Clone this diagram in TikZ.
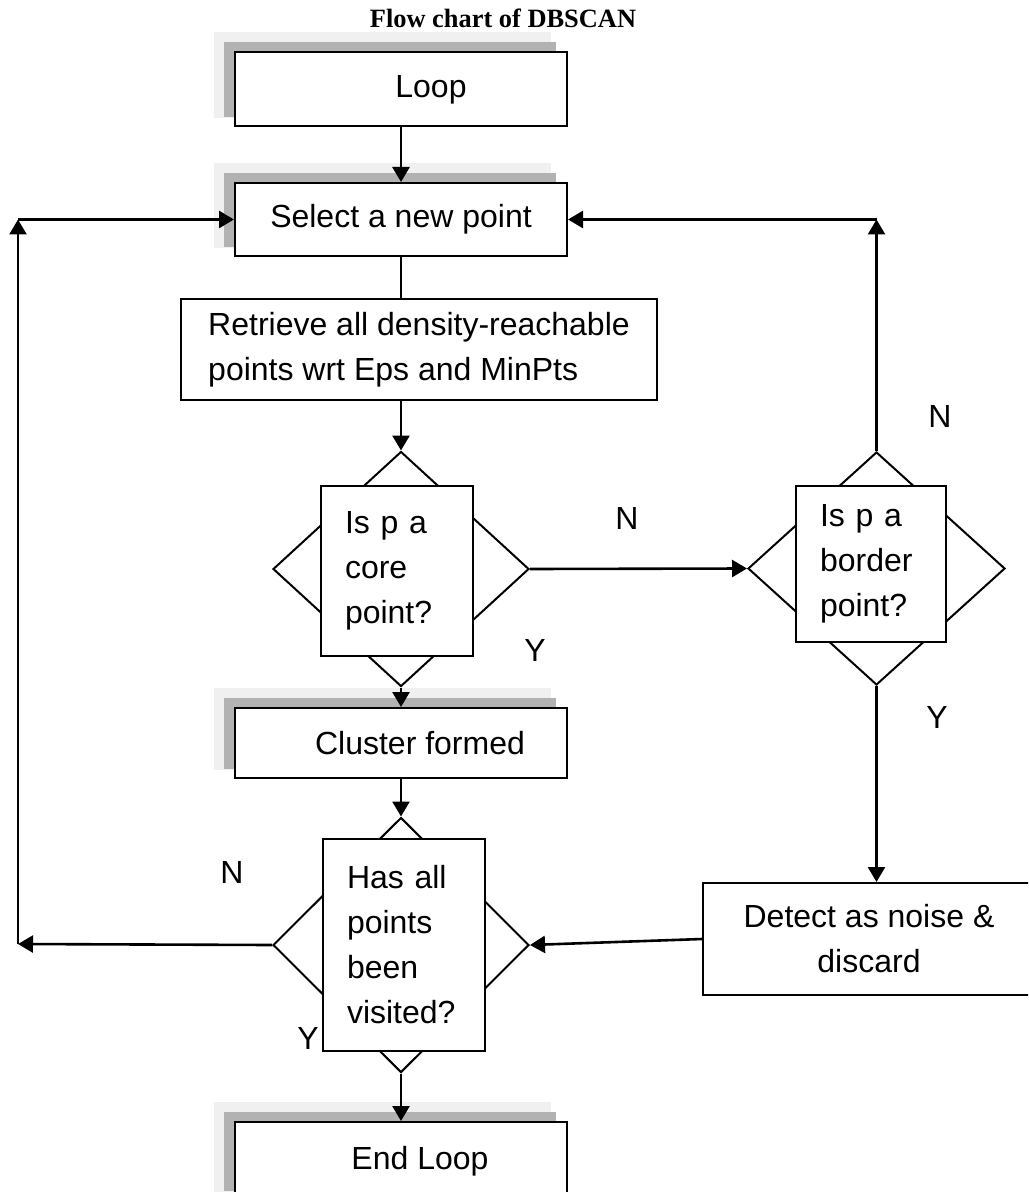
\documentclass[tikz,border=0pt]{standalone}
\usepackage{fontspec}
\setmainfont{Liberation Sans}
\newfontfamily\titlefont{Liberation Serif}
\usetikzlibrary{shapes.geometric,arrows.meta,positioning,backgrounds}

\begin{document}
\begin{tikzpicture}[x=0.5pt, y=-0.5pt,
  font=\fontsize{16pt}{22.5pt}\selectfont,
  box/.style={rectangle, draw, line width=1pt, fill=white, minimum width=166pt, minimum height=37pt, inner sep=0pt, align=center},
  dia/.style={diamond, draw, line width=1pt, inner sep=0pt, minimum width=128pt, minimum height=117pt},
  qbox/.style={rectangle, draw, line width=1pt, fill=white, align=left, inner xsep=12pt, inner ysep=0pt},
  lbl/.style={inner sep=0pt},
  arr/.style={-{Triangle[length=7.5pt,width=8.5pt]}, line width=1.3pt}
]
  \useasboundingbox (0,0) rectangle (1028,1192);
  \clip (0,0) rectangle (1028,1192);
  \node[font=\titlefont\bfseries\fontsize{13.2pt}{15pt}\selectfont] (title) at (503,18) {Flow chart of DBSCAN};
  % boxes
  \node[box] (loop) at (401,89.5) {\hspace*{30pt}Loop};
  \node[box, minimum height=36.5pt] (select) at (401,219.5) {Select a new point};
  \node[box, minimum width=238pt, minimum height=50.5pt, align=left] (retrieve) at (419,349.5) {Retrieve all density-reachable\\points wrt Eps and MinPts};
  \node[box, minimum height=35pt] (cluster) at (401,743) {\hspace*{19pt}Cluster formed};
  \node[box, minimum height=39pt] (endloop) at (401,1161) {\hspace*{19pt}End Loop};
  \node[box, minimum height=56pt] (detect) at (869,939) {Detect as noise \&\\discard};
  % decisions
  \node[dia, minimum height=117.5pt] (core) at (401,569) {};
  \node[qbox, text width=52pt, minimum height=85pt] (coreq) at (397,571) {Is p a\\core\\point?};
  \node[dia, minimum width=128.5pt, minimum height=116.5pt] (border) at (876.5,568.5) {};
  \node[qbox, text width=51pt, minimum height=78pt] (borderq) at (871,564) {Is p a\\border\\point?};
  \node[dia, minimum height=127.5pt] (visited) at (401,945) {};
  \node[qbox, text width=57pt, minimum height=106pt] (visitedq) at (404,945) {Has all\\points\\been\\visited?};
  % shadows
  \begin{scope}[on background layer]
    \foreach \n in {loop,select,cluster,endloop}{
      \fill[gray!12] ([shift={(-20,-19)}]\n.north west) rectangle ([shift={(-17,-9)}]\n.south east);
      \fill[gray!60] ([shift={(-10,-9)}]\n.north west) rectangle ([shift={(-12,-10)}]\n.south east);
    }
  \end{scope}
  % connectors
  \coordinate (rtop) at (876.5,219.5);
  \coordinate (ltop) at (18,219.5);
  \coordinate (lbot) at (18,944);
  \draw[arr] (loop) -- (select);
  \draw[line width=1.3pt] (select.south) -- (select.south |- retrieve.north);
  \draw[arr] (core.north |- retrieve.south) -- (core.north);
  \draw[arr] (core.south) -- (cluster);
  \draw[arr] (cluster) -- (visited.north);
  \draw[arr] (visited.south) -- (endloop);
  \draw[arr] (core.east) -- (border.west);
  \draw[arr] (border.north) -- (rtop);
  \draw[arr] (rtop) -- (select.east);
  \draw[arr] (border.south) -- (border.south |- detect.north);
  \draw[arr] (detect.west) -- (visited.east);
  \draw[arr] (visited.west) -- (lbot);
  \draw[arr] (lbot) -- (ltop);
  \draw[arr] (ltop) -- (select.west);
  % labels
  \node[lbl] (ncore) at (627,518) {N};
  \node[lbl] (ycore) at (535,650) {Y};
  \node[lbl] (nborder) at (940,416) {N};
  \node[lbl] (yborder) at (937,717) {Y};
  \node[lbl] (nvisit) at (232,872) {N};
  \node[lbl] (yvisit) at (308,1038) {Y};
\end{tikzpicture}
\end{document}
